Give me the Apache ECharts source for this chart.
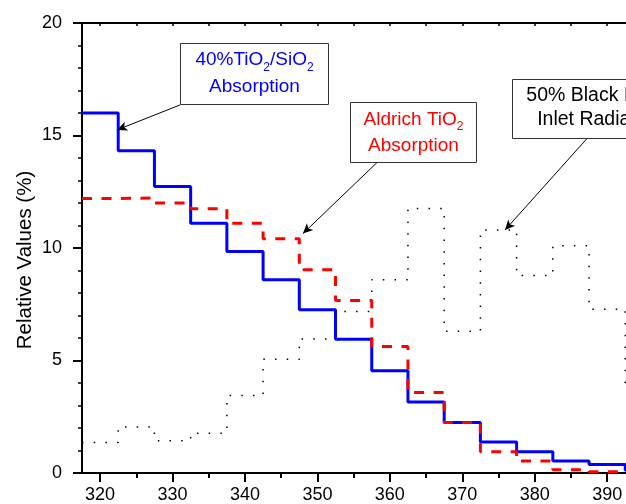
<!DOCTYPE html>
<html>
<head>
<meta charset="utf-8">
<script src="https://cdn.jsdelivr.net/npm/echarts@6/dist/echarts.min.js"></script>
<style>
  html, body { margin: 0; padding: 0; background: #fff; }
  #chart { width: 626px; height: 504px; }
</style>
</head>
<body>
<div id="chart"></div>
<script>
// bin centres (nm), each bin is 5 nm wide
const wavelengths = [320, 325, 330, 335, 340, 345, 350, 355, 360, 365, 370, 375, 380, 385, 390, 395]
const tio2SiO2 = [16.0, 14.32, 12.73, 11.1, 9.84, 8.59, 7.26, 5.94, 4.54, 3.16, 2.25, 1.38, 0.95, 0.53, 0.38, 0.12]
const aldrichTiO2 = [12.2, 12.22, 12.0, 11.74, 11.1, 10.41, 9.03, 7.67, 5.62, 3.58, 2.25, 0.94, 0.53, 0.15, 0.06, 0.05]
const blackLamp = [1.36, 2.05, 1.43, 1.77, 3.44, 5.06, 5.96, 7.18, 8.59, 11.76, 6.3, 10.8, 8.78, 10.1, 7.28, 4.0]

const xMajorTicks = [320, 330, 340, 350, 360, 370, 380, 390]
const xMinorTicks = [325, 335, 345, 355, 365, 375, 385]
const xTopTicks = [320, 325, 330, 335, 340, 345, 350, 355, 360, 365, 370, 375, 380, 385, 390]

// arrows: [from, to] in data coords
const arrows = [
  [[331.05, 16.36], [322.35, 15.25]],
  [[358.2, 13.79], [348.0, 10.64]],
  [[387.2, 14.86], [375.9, 10.8]]
]

const FONT = 'Liberation Sans, Arial, sans-serif'
const BIN = 5
const X_MIN = 317.5
const X_MAX = 392.6

// turn bin centres + values into step points (left edge of each bin, plus closing right edge)
function toSteps(vals) {
  const pts = wavelengths.map((w, i) => [w - BIN / 2, vals[i]])
  const last = wavelengths.length - 1
  pts.push([wavelengths[last] + BIN / 2, vals[last]])
  return pts
}

const chart = echarts.init(document.getElementById('chart'))

chart.setOption({
  animation: false,
  textStyle: { fontFamily: FONT },
  grid: { left: 82, top: 23, right: 0, height: 450 },
  xAxis: [
    {
      type: 'value',
      min: X_MIN,
      max: X_MAX,
      position: 'bottom',
      axisLine: { lineStyle: { color: '#000', width: 2 } },
      axisTick: { length: 9, customValues: xMajorTicks, lineStyle: { color: '#000', width: 2 } },
      axisLabel: { customValues: xMajorTicks, fontSize: 18, color: '#000', margin: 13 },
      splitLine: { show: false }
    },
    {
      type: 'value',
      min: X_MIN,
      max: X_MAX,
      position: 'bottom',
      axisLine: { show: false },
      axisTick: { length: 5, customValues: xMinorTicks, lineStyle: { color: '#000', width: 2 } },
      axisLabel: { show: false },
      splitLine: { show: false }
    },
    {
      type: 'value',
      min: X_MIN,
      max: X_MAX,
      position: 'top',
      axisLine: { lineStyle: { color: '#000', width: 2 } },
      axisTick: { inside: true, length: 3, customValues: xTopTicks, lineStyle: { color: '#000', width: 1.5 } },
      axisLabel: { show: false },
      splitLine: { show: false }
    }
  ],
  yAxis: {
    type: 'value',
    min: 0,
    max: 20,
    interval: 5,
    name: 'Relative Values (%)',
    nameLocation: 'middle',
    nameGap: 46,
    nameMoveOverlap: false,
    nameTextStyle: { fontSize: 20.5, color: '#000', padding: [0, 24, 0, 0] },
    axisLine: { show: true, lineStyle: { color: '#000', width: 2 } },
    axisTick: { show: true, length: 9, lineStyle: { color: '#000', width: 2 } },
    minorTick: { show: true, splitNumber: 5, length: 4, lineStyle: { color: '#000', width: 1.5 } },
    axisLabel: { fontSize: 18, color: '#000', margin: 20 },
    splitLine: { show: false }
  },
  series: [
    {
      name: '50% Black Lamp Inlet Radiation',
      type: 'line',
      step: 'end',
      showSymbol: false,
      data: toSteps(blackLamp),
      lineStyle: { color: '#000', width: 1.5, type: [1.5, 10.2] },
      z: 2,
      markLine: {
        silent: true,
        symbol: ['none', 'arrow'],
        symbolSize: [7, 10],
        label: { show: false },
        lineStyle: { color: '#000', width: 1, type: 'solid' },
        data: arrows.map(a => [{ coord: a[0] }, { coord: a[1] }])
      }
    },
    {
      name: '40%TiO2/SiO2 Absorption',
      type: 'line',
      step: 'end',
      showSymbol: false,
      data: toSteps(tio2SiO2),
      lineStyle: { color: '#0000ff', width: 3 },
      z: 3
    },
    {
      name: 'Aldrich TiO2 Absorption',
      type: 'line',
      step: 'end',
      showSymbol: false,
      data: toSteps(aldrichTiO2),
      lineStyle: { color: '#ff0000', width: 3, type: [10, 9.5] },
      z: 4
    }
  ],
  graphic: [
    {
      type: 'group', left: 180, top: 43, z: 10,
      children: [
        { type: 'rect', shape: { width: 148, height: 61 }, style: { fill: '#fff', stroke: '#333', lineWidth: 1 } },
        {
          type: 'text', x: 74, y: 30,
          style: {
            text: '{a|40%TiO}{s|2}{a|/SiO}{s|2}\n{a|Absorption}',
            align: 'center', verticalAlign: 'middle',
            rich: {
              a: { fontSize: 19, fill: '#0000ff', lineHeight: 27, fontFamily: FONT },
              s: { fontSize: 12, fill: '#0000ff', lineHeight: 27, verticalAlign: 'bottom', fontFamily: FONT }
            }
          }
        }
      ]
    },
    {
      type: 'group', left: 350, top: 102, z: 10,
      children: [
        { type: 'rect', shape: { width: 126, height: 60 }, style: { fill: '#fff', stroke: '#333', lineWidth: 1 } },
        {
          type: 'text', x: 63, y: 30,
          style: {
            text: '{a|Aldrich TiO}{s|2}\n{a|Absorption}',
            align: 'center', verticalAlign: 'middle',
            rich: {
              a: { fontSize: 19, fill: '#ff0000', lineHeight: 26, fontFamily: FONT },
              s: { fontSize: 12, fill: '#ff0000', lineHeight: 26, verticalAlign: 'bottom', fontFamily: FONT }
            }
          }
        }
      ]
    },
    {
      type: 'group', left: 512, top: 79, z: 10,
      children: [
        { type: 'rect', shape: { width: 170, height: 59 }, style: { fill: '#fff', stroke: '#333', lineWidth: 1 } },
        {
          type: 'text', x: 87, y: 28,
          style: {
            text: '50% Black Lamp\nInlet Radiation',
            align: 'center', verticalAlign: 'middle',
            fontSize: 19.5, lineHeight: 24, fill: '#000', fontFamily: FONT
          }
        }
      ]
    }
  ]
})
</script>
</body>
</html>
